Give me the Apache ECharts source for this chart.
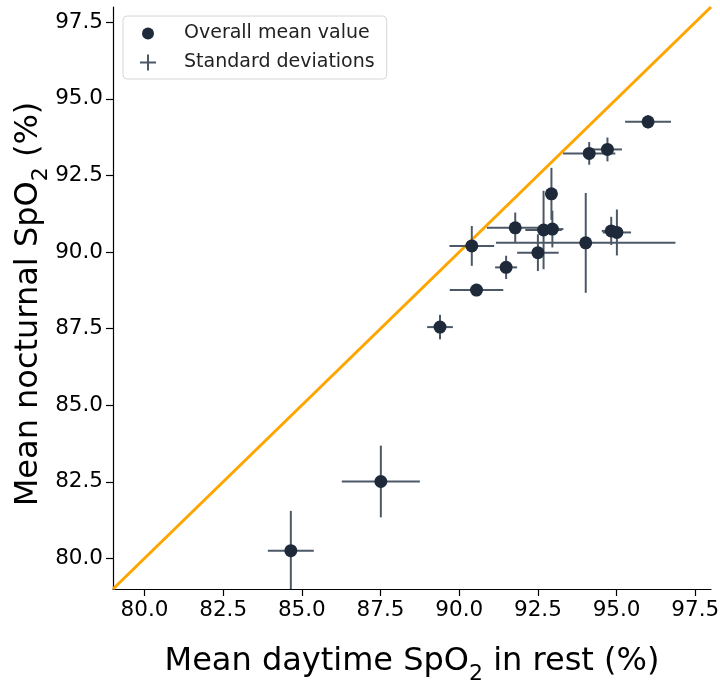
<!DOCTYPE html>
<html>
<head>
<meta charset="utf-8">
<script src="https://cdn.jsdelivr.net/npm/echarts@6/dist/echarts.min.js"></script>
<style>
html,body{margin:0;padding:0;background:#fff;}
#chart{width:720px;height:682px;}
</style>
</head>
<body>
<div id="chart"></div>
<script>
var xMean = [84.65, 87.51, 89.39, 90.40, 90.55, 91.49, 91.78, 92.50, 92.68, 92.93, 92.96, 94.02, 94.13, 94.71, 94.83, 95.01, 96.00];
var yMean = [80.25, 82.51, 87.55, 90.20, 88.76, 89.50, 90.79, 89.98, 90.72, 91.90, 90.75, 90.30, 93.22, 93.35, 90.69, 90.64, 94.25];
var xSd   = [0.73, 1.24, 0.41, 0.71, 0.85, 0.35, 0.90, 0.66, 0.58, 0.10, 0.35, 2.85, 0.83, 0.46, 0.30, 0.45, 0.73];
var ySd   = [1.30, 1.17, 0.40, 0.65, 0.20, 0.38, 0.50, 0.60, 1.28, 0.85, 0.60, 1.63, 0.37, 0.39, 0.46, 0.75, 0.22];
var tickValues = [80.0, 82.5, 85.0, 87.5, 90.0, 92.5, 95.0, 97.5];
var axisMin = 79, axisMax = 98;
var identityLine = [[79, 79], [98, 98]];

var pointData = xMean.map(function (x, i) { return [x, yMean[i]]; });
var errData = xMean.map(function (x, i) { return [x, yMean[i], xSd[i], ySd[i]]; });

var barColor = '#4d5866';
var dotColor = '#1e2a3a';
var font = 'DejaVu Sans';

var nameStyle = {
  fontFamily: font, fontSize: 32, color: '#000', lineHeight: 46,
  rich: {
    sub: { fontFamily: font, fontSize: 22, color: '#000', verticalAlign: 'bottom', lineHeight: 46 }
  }
};

var chart = echarts.init(document.getElementById('chart'));
var axisCommon = {
  type: 'value', min: axisMin, max: axisMax,
  axisLine: { show: true, onZero: false, lineStyle: { color: '#000', width: 1.2 } },
  axisTick: { show: true, length: 7, customValues: tickValues, lineStyle: { color: '#000', width: 1.2 } },
  axisLabel: { customValues: tickValues, fontFamily: font, fontSize: 21.5, color: '#000', margin: 10,
    formatter: function (v) { return v.toFixed(1); } },
  splitLine: { show: false },
  nameLocation: 'middle',
  nameMoveOverlap: false,
  nameTextStyle: nameStyle
};
chart.setOption({
  animation: false,
  grid: { left: 113, right: 9, top: 7, bottom: 93, containLabel: false, outerBoundsMode: 'none' },
  legend: {
    orient: 'vertical', left: 123, top: 16,
    padding: [8, 12, 7, 17], itemGap: 10,
    itemWidth: 16, itemHeight: 16,
    borderColor: '#d6d6d6', borderWidth: 1, borderRadius: 4,
    textStyle: { fontFamily: font, fontSize: 19, color: '#222', padding: [0, 0, 0, 23] },
    data: [
      { name: 'Overall mean value', icon: 'path://M0,0M16,16M14,8A6,6,0,1,1,2,8A6,6,0,1,1,14,8Z' },
      { name: 'Standard deviations', icon: 'path://M7,0h2v16h-2zM0,7h16v2h-16z' }
    ]
  },
  xAxis: Object.assign({}, axisCommon, { name: 'Mean daytime SpO{sub|2} in rest (%)', nameGap: 50 }),
  yAxis: Object.assign({}, axisCommon, { name: 'Mean nocturnal SpO{sub|2} (%)', nameGap: 61,
    nameTextStyle: Object.assign({}, nameStyle, { padding: [0, 12, 0, 0] }) }),
  series: [
    {
      type: 'line', data: identityLine, showSymbol: false, silent: true, z: 1,
      lineStyle: { color: '#FFA500', width: 3 }
    },
    {
      name: 'Standard deviations', type: 'custom', z: 2, clip: true,
      itemStyle: { color: barColor },
      data: errData,
      renderItem: function (params, api) {
        var x = api.value(0), y = api.value(1), sx = api.value(2), sy = api.value(3);
        var l = api.coord([x - sx, y]), r = api.coord([x + sx, y]);
        var t = api.coord([x, y + sy]), b = api.coord([x, y - sy]);
        var st = { stroke: barColor, lineWidth: 2 };
        return { type: 'group', children: [
          { type: 'line', shape: { x1: l[0], y1: l[1], x2: r[0], y2: r[1] }, style: st },
          { type: 'line', shape: { x1: t[0], y1: t[1], x2: b[0], y2: b[1] }, style: st }
        ] };
      }
    },
    {
      name: 'Overall mean value', type: 'scatter', z: 3, data: pointData,
      symbolSize: 13, itemStyle: { color: dotColor, opacity: 1 }
    }
  ]
});
</script>
</body>
</html>
